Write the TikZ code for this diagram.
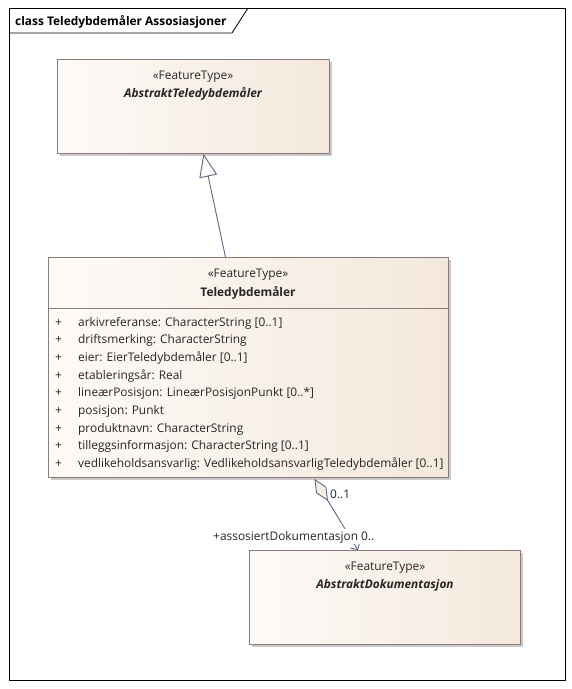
\documentclass[tikz,border=0pt]{standalone}
\usepackage{fontspec}
\setmainfont{Open Sans}
\usetikzlibrary{arrows.meta,shadows,calc}
\definecolor{bordc}{HTML}{8E7A7A}
\definecolor{linec}{HTML}{5F6784}
\definecolor{fillL}{HTML}{FDFBF8}
\definecolor{fillR}{HTML}{F4E8DC}
\newcommand{\fs}{\fontsize{11.9}{14}\selectfont}
\tikzset{
  cls/.style={draw=bordc, line width=0.9pt, left color=fillL, right color=fillR,
    drop shadow={shadow xshift=3pt, shadow yshift=-3pt, fill=black!35, opacity=0.6},
    anchor=north west, inner sep=0pt},
  txt/.style={font=\fs, inner sep=0pt, text=black!85},
  attr/.style={txt, anchor=base west},
  gen/.style={draw=linec, line width=0.9pt, -{Triangle[open, length=23pt, width=18pt, fill=fillL]}},
  assoc/.style={draw=linec, line width=0.9pt, {Diamond[open, length=26pt, width=12pt, fill=fillR!70!white]}-{Straight Barb[length=5pt, width=11pt]}},
}
\begin{document}
\begin{tikzpicture}[x=1pt, y=-1pt]
\useasboundingbox[fill=white] (0,0) rectangle (572,689);
% frame
\node[draw=black, line width=0.8pt, minimum width=556pt, minimum height=672pt, anchor=north west, inner sep=0pt] (frame) at (9,8) {};
\draw[black, line width=0.8pt] (9,33) -- (232,33) -- (248,8);
\node[txt, anchor=base west, font=\fs\bfseries, text=black] (title) at (15,25) {class Teledybdemåler Assosiasjoner};

% class 1
\node[cls, minimum width=272pt, minimum height=94pt] (b1) at (57,59) {};
\node[txt, anchor=base] (b1s) at (193,79) {«FeatureType»};
\node[txt, anchor=base, font=\fs\bfseries\itshape] (b1n) at (193,97) {AbstraktTeledybdemåler};

% class 2
\node[cls, minimum width=400pt, minimum height=220pt] (b2) at (48,257) {};
\draw[bordc, line width=0.9pt] (b2.west |- 0,308) -- (b2.east |- 0,308);
\node[txt, anchor=base] (b2s) at (248,277) {«FeatureType»};
\node[txt, anchor=base, font=\fs\bfseries] (b2n) at (248,296) {Teledybdemåler};
\foreach \i/\t in {0/{arkivreferanse: CharacterString [0..1]},
  1/{driftsmerking: CharacterString},
  2/{eier: EierTeledybdemåler [0..1]},
  3/{etableringsår: Real},
  4/{lineærPosisjon: LineærPosisjonPunkt [0..*]},
  5/{posisjon: Punkt},
  6/{produktnavn: CharacterString},
  7/{tilleggsinformasjon: CharacterString [0..1]},
  8/{vedlikeholdsansvarlig: VedlikeholdsansvarligTeledybdemåler [0..1]}} {
  \node[attr] (p\i) at (55,{326+17.7*\i}) {+};
  \node[attr] (a\i) at (78,{326+17.7*\i}) {\t};
}

% class 3
\node[cls, minimum width=271pt, minimum height=94pt] (b3) at (249,550) {};
\node[txt, anchor=base] (b3s) at (385,570) {«FeatureType»};
\node[txt, anchor=base, font=\fs\bfseries\itshape] (b3n) at (385,588) {AbstraktDokumentasjon};

% connectors
\draw[gen] ([xshift=-23pt]b2.north) -- ([xshift=10pt]b1.south);
\draw[assoc] ([xshift=66pt, yshift=-1pt]b2.south) -- ([xshift=-27pt]b3.north);
\node[txt, anchor=base west] (m1) at (330,498) {0..1};
\node[txt, anchor=base east, fill=white, inner sep=1.5pt] (m2) at (376,540) {+assosiertDokumentasjon 0..};
\end{tikzpicture}
\end{document}
